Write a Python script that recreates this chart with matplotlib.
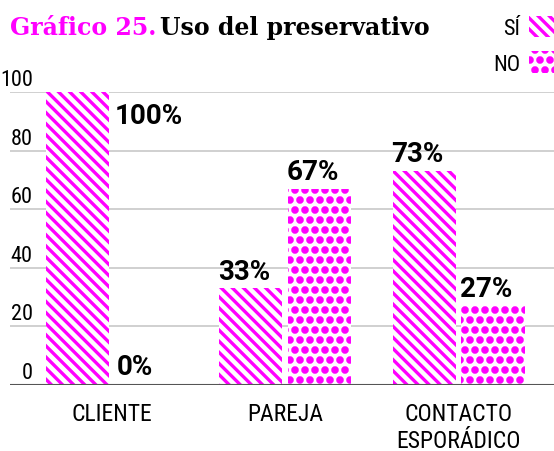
import matplotlib
matplotlib.use("Agg")
import matplotlib.pyplot as plt
import matplotlib.hatch as mhatch
from matplotlib.patches import Patch
from matplotlib import font_manager
import numpy as np

categories = ["CLIENTE", "PAREJA", "CONTACTO\nESPORÁDICO"]
si = [100, 33, 73]
no = [0, 67, 27]
series_names = ["SÍ", "NO"]
yticks = [0, 20, 40, 60, 80, 100]

MAGENTA = "#ff00ff"

names = {f.name for f in font_manager.fontManager.ttflist}
sans = "Roboto" if "Roboto" in names else "DejaVu Sans"
narrow = "Roboto Condensed" if "Roboto Condensed" in names else sans
slab = "Roboto Slab" if "Roboto Slab" in names else "DejaVu Serif"


# matplotlib's '.' hatch makes tiny dots, swap in bigger filled ones
class BigDots(mhatch.Circles):
    size = 0.21
    filled = True

    def __init__(self, hatch, density):
        self.num_rows = 10 if '.' in hatch else 0
        super().__init__(hatch, density)


mhatch._hatch_types[mhatch._hatch_types.index(mhatch.SmallFilledCircles)] = BigDots
plt.rcParams["hatch.linewidth"] = 2.4
plt.rcParams["font.family"] = sans

fig = plt.figure(figsize=(5.54, 4.52), dpi=100)
ax = fig.add_axes([10 / 554, 66 / 452, 544 / 554, 293 / 452])

x = np.arange(len(categories))
w = 0.364
off = 0.199
hatches = ["\\\\\\", "."]
for vals, dx, h in zip([si, no], [-off, off], hatches):
    ax.bar(x + dx, vals, w, color="white", edgecolor=MAGENTA, linewidth=0,
           hatch=h, zorder=2)
    for xi, v in zip(x + dx, vals):
        if v >= 90:
            ax.annotate(f"{v}%", (xi + w / 2, v), xytext=(4, -22),
                        textcoords="offset points", ha="left", va="baseline",
                        fontsize=20, fontweight="bold")
        elif v == 0:
            ax.annotate(f"{v}%", (xi - w / 2, v), xytext=(1.5, 8),
                        textcoords="offset points", ha="left", va="baseline",
                        fontsize=20, fontweight="bold")
        else:
            ax.annotate(f"{v}%", (xi, v), xytext=(-5, 7),
                        textcoords="offset points", ha="center", va="baseline",
                        fontsize=20, fontweight="bold")

ax.set_xlim(-0.589, 2.551)
ax.set_ylim(0, 100)
for t in yticks[1:]:
    ax.axhline(t, color="#c4c4c4", lw=1.1, zorder=1)
ax.axhline(0, color="#555555", lw=1.5, zorder=3)
for t in yticks:
    ax.annotate(str(t), (0.042, t), xycoords=("axes fraction", "data"),
                xytext=(0, 5), textcoords="offset points", ha="right",
                va="baseline", fontsize=16, family=narrow)

for s in ax.spines.values():
    s.set_visible(False)
ax.set_yticks([])
ax.set_xticks(x)
ax.set_xticklabels(categories, fontsize=17, family=narrow, linespacing=1.25)
ax.tick_params(axis="x", length=0, pad=12)

fig.text(10 / 554, 1 - 35 / 452, "Gráfico 25.", color=MAGENTA, fontsize=17,
         fontweight="bold", family=slab, va="baseline")
fig.text(160 / 554, 1 - 35 / 452, "Uso del preservativo", color="black",
         fontsize=17, fontweight="bold", family=slab, va="baseline")

handles = [Patch(facecolor="white", edgecolor=MAGENTA, linewidth=0, hatch=h)
           for h in hatches]
leg = fig.legend(handles, series_names, loc="upper right",
                 bbox_to_anchor=(569 / 554, 1 - 17 / 452), frameon=False,
                 markerfirst=False, prop={"family": narrow, "size": 16},
                 handlelength=1.8, handleheight=1.1, handletextpad=0.4,
                 labelspacing=0.55, borderpad=0, borderaxespad=0)

fig.savefig("out.png", dpi=100)
